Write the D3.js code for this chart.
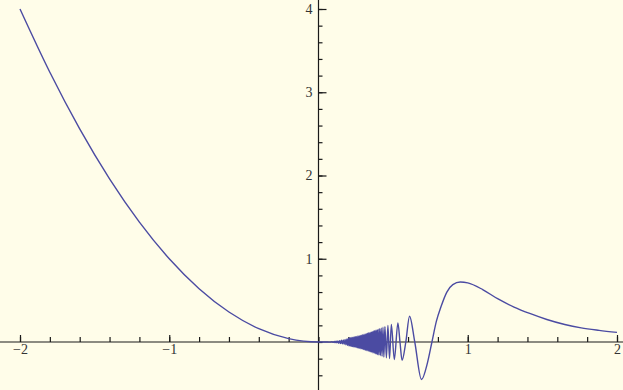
<!DOCTYPE html>
<html>
<head>
<meta charset="utf-8">
<script src="https://cdn.jsdelivr.net/npm/d3@7"></script>
<style>
  body { margin: 0; background: #fffde9; }
  svg { display: block; }
</style>
</head>
<body>
<div id="chart"></div>
<script>
// values
var leftX = [-2, -1.8, -1.6, -1.4, -1.2, -1, -0.8, -0.6, -0.4, -0.2, -0.1, 0];
var leftY = [4, 3.24, 2.56, 1.96, 1.44, 1, 0.64, 0.36, 0.16, 0.04, 0.01, 0];

// right branch: dense oscillation near 0, then one big hump
var rightX = [0, 0.06, 0.08, 0.09,
  0.1, 0.106, 0.112, 0.118, 0.124, 0.13, 0.136, 0.142, 0.148, 0.154, 0.16, 0.166, 0.172, 0.178,
  0.184, 0.19, 0.195,
  0.2, 0.204, 0.208, 0.212, 0.216, 0.22, 0.224, 0.228, 0.232, 0.236, 0.24, 0.244, 0.248, 0.252,
  0.256, 0.26, 0.264, 0.268, 0.272, 0.276, 0.28, 0.284, 0.288, 0.292, 0.296, 0.3, 0.304, 0.308,
  0.312, 0.316, 0.32, 0.324, 0.328, 0.332, 0.336, 0.34, 0.344, 0.348, 0.352, 0.356, 0.36, 0.364,
  0.368, 0.372, 0.376, 0.38, 0.384, 0.388, 0.392, 0.396, 0.4, 0.405, 0.41, 0.415, 0.42, 0.426,
  0.432, 0.438, 0.445,
  0.455, 0.465, 0.476, 0.488, 0.508, 0.532, 0.546, 0.56, 0.585, 0.61, 0.645, 0.69, 0.73,
  0.76, 0.79, 0.82, 0.86, 0.9, 0.95, 1.0, 1.1, 1.2, 1.31, 1.42, 1.53, 1.65, 1.76, 1.88, 2];
var rightY = [0, 0, -0.002, 0.003,
  -0.005, 0.006, -0.008, 0.009, -0.011, 0.013, -0.015, 0.017, -0.019, 0.021, -0.023, 0.025, -0.028, 0.03,
  -0.033, 0.036, -0.04,
  0.045, -0.047, 0.048, -0.05, 0.051, -0.053, 0.054, -0.056, 0.057, -0.059, 0.061, -0.062, 0.064, -0.066,
  0.068, -0.07, 0.072, -0.074, 0.076, -0.077, 0.079, -0.081, 0.083, -0.085, 0.087, -0.09, 0.092, -0.094,
  0.096, -0.099, 0.101, -0.104, 0.106, -0.109, 0.111, -0.114, 0.116, -0.119, 0.121, -0.124, 0.127, -0.129,
  0.132, -0.135, 0.138, -0.141, 0.143, -0.146, 0.149, -0.152, 0.155, -0.158, 0.162, -0.165, 0.169, -0.173,
  0.177, -0.181, 0.185,
  -0.19, 0.2, -0.2, 0.21, -0.21, 0.23, 0, -0.22, 0, 0.31, 0, -0.45, -0.25,
  0, 0.25, 0.42, 0.6, 0.69, 0.72, 0.71, 0.63, 0.52, 0.42, 0.34, 0.27, 0.21, 0.17, 0.14, 0.115];

var xMajor = [-2, -1, 1, 2];
var yMajor = [1, 2, 3, 4];

var width = 623, height = 390;

var svg = d3.select("#chart").append("svg")
  .attr("width", width)
  .attr("height", height);

svg.append("rect").attr("width", width).attr("height", height).attr("fill", "#fffde9");

var x = d3.scaleLinear().domain([-2, 2]).range([20, 617]);
var y = d3.scaleLinear().domain([0, 4]).range([342, 9]);

var xMinor = d3.range(-2, 2.01, 0.2).map(function(d) { return Math.round(d * 10) / 10; });
var yMinor = d3.range(-0.4, 4.01, 0.2).map(function(d) { return Math.round(d * 10) / 10; });

// axis lines run the full width / height
svg.append("line")
  .attr("x1", 0).attr("x2", width)
  .attr("y1", y(0)).attr("y2", y(0))
  .attr("stroke", "#1a1a1a").attr("stroke-width", 1.2);
svg.append("line")
  .attr("x1", x(0)).attr("x2", x(0))
  .attr("y1", 0).attr("y2", height)
  .attr("stroke", "#1a1a1a").attr("stroke-width", 1.2);

// x ticks (point up, labels below)
svg.append("g")
  .attr("transform", "translate(0," + y(0) + ")")
  .call(d3.axisBottom(x).tickValues(xMinor).tickSize(-5).tickFormat("").tickSizeOuter(0))
  .call(function(g) { g.select(".domain").remove(); });
svg.append("g")
  .attr("transform", "translate(0," + y(0) + ")")
  .call(d3.axisBottom(x).tickValues(xMajor).tickSize(-7).tickPadding(2).tickSizeOuter(0)
    .tickFormat(function(d) { return d < 0 ? "\u2212" + Math.abs(d) : d; }))
  .call(function(g) { g.select(".domain").remove(); });

// y ticks (point right, labels left)
svg.append("g")
  .attr("transform", "translate(" + x(0) + ",0)")
  .call(d3.axisLeft(y).tickValues(yMinor).tickSize(-4).tickFormat("").tickSizeOuter(0))
  .call(function(g) { g.select(".domain").remove(); });
svg.append("g")
  .attr("transform", "translate(" + x(0) + ",0)")
  .call(d3.axisLeft(y).tickValues(yMajor).tickSize(-8).tickPadding(6).tickSizeOuter(0)
    .tickFormat(d3.format("d")))
  .call(function(g) { g.select(".domain").remove(); });

svg.selectAll(".tick line").attr("stroke", "#1a1a1a").attr("stroke-width", 1.2);
svg.selectAll(".tick text")
  .attr("fill", "#333")
  .attr("font-family", "'Liberation Serif', 'DejaVu Serif', serif")
  .attr("font-size", 14);

var line = d3.line()
  .x(function(d) { return x(d[0]); })
  .y(function(d) { return y(d[1]); })
  .curve(d3.curveMonotoneX);

var left = leftX.map(function(d, i) { return [d, leftY[i]]; });
var right = rightX.map(function(d, i) { return [d, rightY[i]]; });

svg.append("path").datum(left.concat(right.slice(1)))
  .attr("d", line)
  .attr("fill", "none")
  .attr("stroke", "#4b4ba2")
  .attr("stroke-width", 1.4);
</script>
</body>
</html>
